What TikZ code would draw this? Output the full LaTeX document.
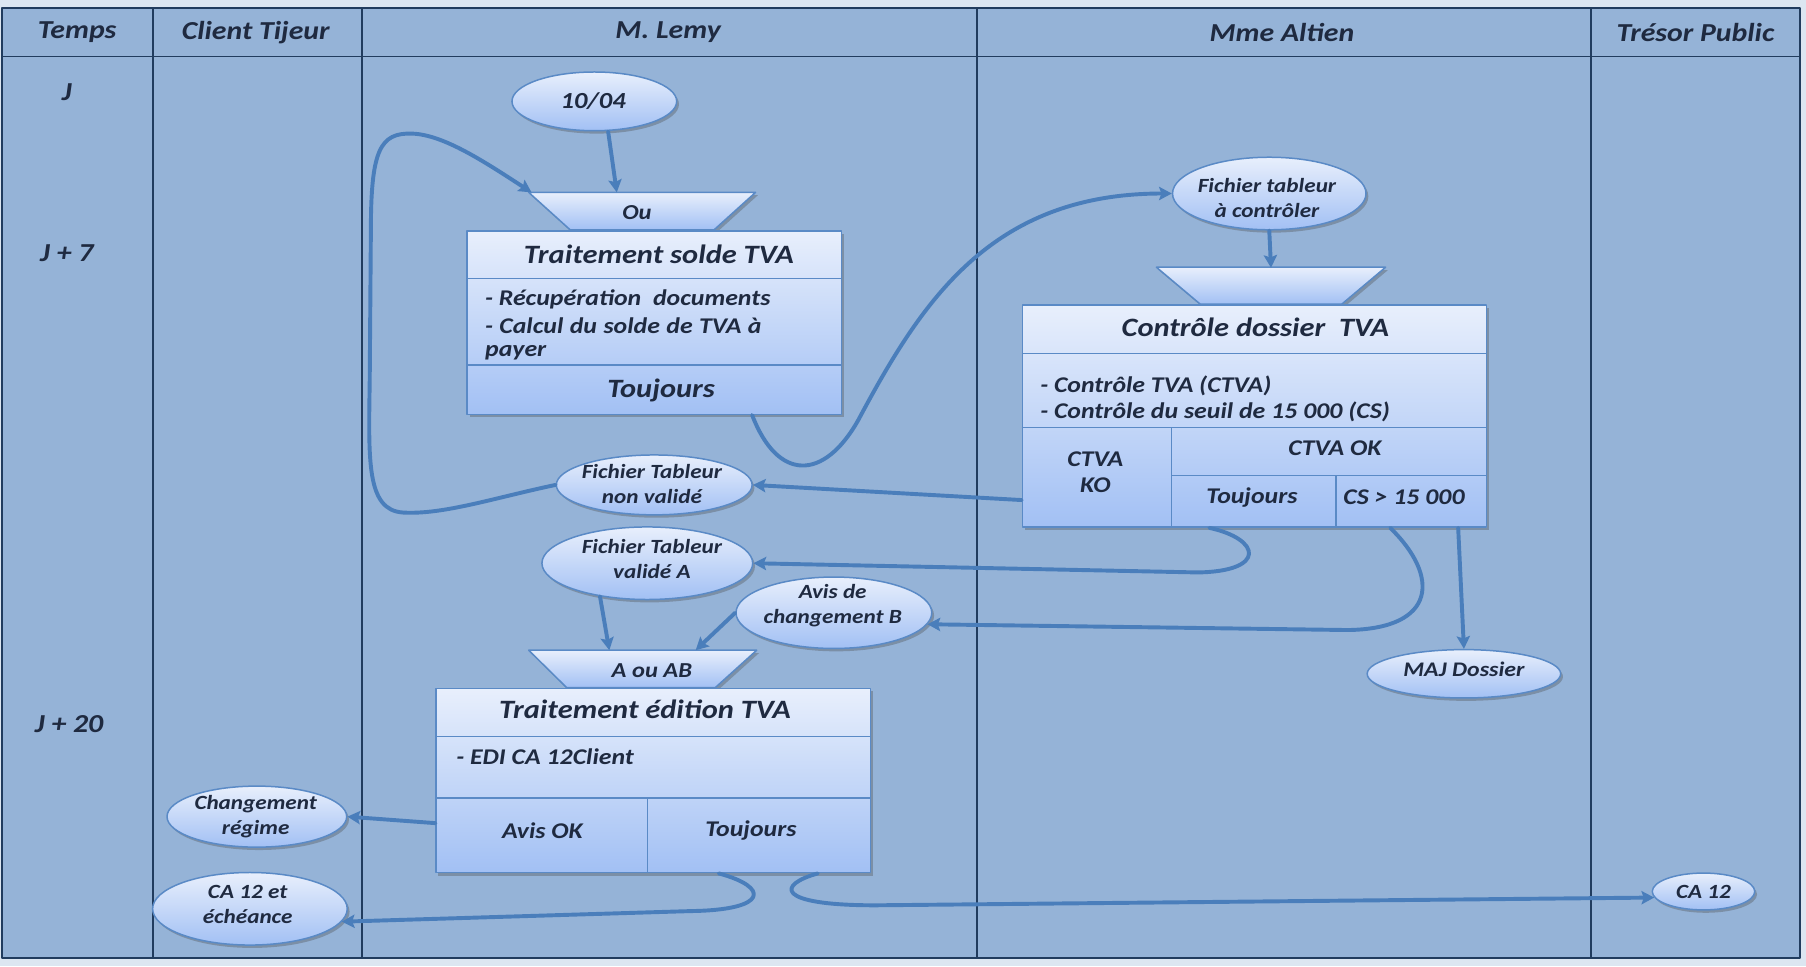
\documentclass[tikz,border=0pt]{standalone}
\usepackage{fontspec}
\setmainfont{Carlito}[FakeStretch=1.15]
\usetikzlibrary{shapes.geometric,shadows,arrows.meta}

\definecolor{pagebg}{HTML}{DCE6F1}
\definecolor{lanebg}{HTML}{95B3D7}
\definecolor{gridc}{HTML}{213C5E}
\definecolor{edge}{HTML}{5A8AC6}
\definecolor{flowc}{HTML}{4A7EBB}
\definecolor{shtop}{HTML}{E8EFFC}
\definecolor{shbot}{HTML}{A2C0F4}
\definecolor{ink}{HTML}{1F2A40}

\begin{document}
\begin{tikzpicture}[x=1pt,y=-1pt,line join=round,
  base/.style={text=ink,inner sep=0pt},
  hdr/.style={base,font=\fontsize{22.5}{26}\selectfont\bfseries\itshape},
  ttl/.style={base,font=\fontsize{23}{27}\selectfont\bfseries\itshape},
  txt/.style={base,align=center,font=\fontsize{19.5}{22}\selectfont\bfseries\itshape},
  lbl/.style={base,align=center,font=\fontsize{17.5}{21.5}\selectfont\bfseries\itshape},
  paper/.style={draw=edge,line width=1.3pt,top color=shtop,bottom color=shbot,
    drop shadow={shadow xshift=2pt,shadow yshift=-2.5pt,opacity=0.35,fill=black!70}},
  panel/.style={paper,rectangle,inner sep=0pt,anchor=north west},
  bubble/.style={paper,ellipse,inner sep=0pt},
  rule/.style={draw=edge,line width=1.3pt},
  lane/.style={draw=gridc,line width=1.6pt},
  flow/.style={draw=flowc,line width=3.4pt,line cap=round,
    -{Stealth[length=11pt,width=11.5pt,inset=2pt]}}]

\useasboundingbox (0,0) rectangle (1568,839);
\fill[pagebg] (0,0) rectangle (1568,839);

% swimlane grid
\fill[lanebg] (2,7) rectangle (1563,832);
\draw[lane] (2,7) rectangle (1563,832);
\draw[lane] (2,49) -- (1563,49);
\foreach \x in {133,314,848,1381} \draw[lane] (\x,7) -- (\x,832);

\node[hdr] (hT) at (67,28) {Temps};
\node[hdr] (hC) at (222,28) {Client Tijeur};
\node[hdr] (hL) at (580,28) {M. Lemy};
\node[hdr] (hA) at (1113,28) {Mme Altien};
\node[hdr] (hP) at (1472,28) {Trésor Public};

\node[hdr] (t0) at (58,80) {J};
\node[hdr] (t7) at (58,220) {J + 7};
\node[hdr] (t20) at (60,629) {J + 20};

% ---- M. Lemy: first processing box
\node[bubble,minimum width=143pt,minimum height=51pt] (d1) at (516,88) {};
\node[base,font=\fontsize{20}{24}\selectfont\bfseries\itshape] at (515,88) {10/04};

% "Ou" merge funnel
\path[paper] (459,167) -- (656,167) -- (620,199.5) -- (495,199.5) -- cycle;
\coordinate (ou) at (557.5,183);
\node[lbl,font=\fontsize{18.5}{22}\selectfont\bfseries\itshape] at (553,185) {Ou};

\node[panel,minimum width=325pt,minimum height=159pt] (ts) at (405,200) {};
\draw[rule] (405,242) -- (730,242) (405,317) -- (730,317);
\node[ttl] at (572,221) {Traitement solde TVA};
\node[txt,anchor=west] at (421,260) {- Récupération~~documents};
\node[txt,anchor=west] at (421,283) {\makebox[240pt][s]{- Calcul du solde de TVA à}};
\node[txt,anchor=west] at (421,306) {payer};
\node[ttl] at (574,339) {Toujours};

% ---- Mme Altien: control box
\node[bubble,minimum width=168pt,minimum height=63pt] (ft) at (1102,168) {};
\node[lbl] at (1100,172) {Fichier tableur\\à contrôler};

\path[paper] (1004,232) -- (1203,232) -- (1165,264) -- (1042,264) -- cycle;
\coordinate (tr2) at (1103.5,248);

\node[panel,minimum width=403pt,minimum height=193pt] (ctrl) at (887,264) {};
\draw[rule] (887,307) -- (1290,307) (887,371) -- (1290,371)
  (1017,371) -- (1017,457) (1017,413) -- (1290,413) (1160,413) -- (1160,457);
\node[ttl] at (1090,284) {Contrôle dossier~~TVA};
\node[txt,anchor=west] at (903,335) {- Contrôle TVA (CTVA)};
\node[txt,anchor=west] at (903,358) {- Contrôle du seuil de 15 000 (CS)};
\node[txt] at (951,410) {CTVA\\KO};
\node[txt] at (1159,389) {CTVA OK};
\node[txt] at (1087,432) {Toujours};
\node[txt] at (1219,432) {CS > 15 000};

\node[bubble,minimum width=168pt,minimum height=42pt] (maj) at (1271,585) {};
\node[lbl,font=\fontsize{18}{21}\selectfont\bfseries\itshape] at (1271,581) {MAJ Dossier};

% ---- returned files
\node[bubble,minimum width=170pt,minimum height=52pt] (nv) at (568,421) {};
\node[lbl] at (566,420) {Fichier Tableur\\non validé};

\node[bubble,minimum width=183pt,minimum height=63pt] (vA) at (562,489) {};
\node[lbl] at (566,485) {Fichier Tableur\\validé A};

\node[bubble,minimum width=170pt,minimum height=62pt] (avis) at (724,532) {};
\node[lbl] at (723,526) {Avis de\\changement B};

% ---- M. Lemy: editing box
\path[paper] (459,564.5) -- (657,564.5) -- (621,597) -- (492,597) -- cycle;
\coordinate (ab) at (558,580.5);
\node[lbl,font=\fontsize{18.5}{22}\selectfont\bfseries\itshape] at (566,582) {A ou AB};

\node[panel,minimum width=377pt,minimum height=160pt] (ed) at (378,597) {};
\draw[rule] (378,639.5) -- (755,639.5) (378,693) -- (755,693) (562,693) -- (562,757);
\node[ttl] at (560,616) {Traitement édition TVA};
\node[txt,anchor=west] at (396,657) {- EDI CA 12Client};
\node[txt] at (471,721) {Avis OK};
\node[txt] at (652,721) {Toujours};

% ---- outputs
\node[bubble,minimum width=156pt,minimum height=53pt] (cr) at (223,709) {};
\node[lbl] at (222,709) {Changement\\régime};

\node[bubble,minimum width=169pt,minimum height=63pt] (ce) at (217,789) {};
\node[lbl] at (215,785) {CA 12 et\\échéance};

\node[bubble,minimum width=89pt,minimum height=32pt] (ca) at (1479,774) {};
\node[lbl] at (1479,774) {CA 12};

% ---- connectors
\draw[flow] ([xshift=12pt]d1.south) -- ([xshift=-22pt,yshift=16pt]ou);
\draw[flow] (nv.west) .. controls (430,432) and (385,447) .. (350,445)
  .. controls (318,443) and (320,400) .. (321,330) -- (322,200)
  .. controls (322,130) and (330,115) .. (358,116)
  .. controls (385,117) and (420,140) .. ([xshift=-96pt,yshift=16pt]ou);
\draw[flow] ([xshift=248pt]ts.south west) .. controls (675,418) and (715,418) .. (745,365)
  .. controls (800,262) and (860,168) .. (ft.west);
\draw[flow] (ft.south) -- ([yshift=15.5pt]tr2);
\draw[flow] ([yshift=-73pt]ctrl.west) -- (nv.east);
\draw[flow] ([xshift=163pt]ctrl.south west) .. controls (1095,468) and (1100,496) .. (1040,497)
  -- (vA.east);
\draw[flow] ([xshift=320pt]ctrl.south west) .. controls (1250,500) and (1248,546) .. (1170,547)
  -- (avis.353);
\draw[flow] ([xshift=379pt]ctrl.south west) -- (maj.north);
\draw[flow] (vA.215) -- ([xshift=-29pt,yshift=16pt]ab);
\draw[flow] (avis.west) -- ([xshift=46pt,yshift=16pt]ab);
\draw[flow] ([yshift=-37pt]ed.west) -- (cr.east);
\draw[flow] ([xshift=246pt]ed.south west) .. controls (668,770) and (668,790) .. (600,791)
  -- (ce.352);
\draw[flow] ([xshift=332pt]ed.south west) .. controls (675,768) and (672,786) .. (760,786)
  -- (ca.187);
\end{tikzpicture}
\end{document}
